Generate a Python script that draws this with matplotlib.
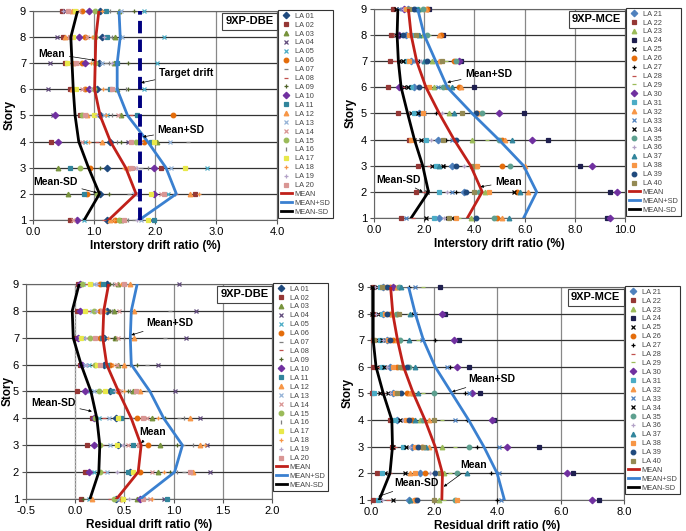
import matplotlib.pyplot as plt

plt.rcParams['font.family'] = ['Liberation Sans', 'DejaVu Sans']

stories = [1, 2, 3, 4, 5, 6, 7, 8, 9]

# interstory drift, DBE (story 1 .. 9, 20 records each)
idr_dbe = [
    [1.22, 0.61, 1.44, 1.93, 0.83, 1.35, 1.66, 1.16, 1.52, 0.72, 1.99, 1.27, 1.77, 0.66, 1.41, 1.55, 1.88, 1.33, 1.71, 1.49],
    [1.10, 2.65, 0.58, 1.74, 2.21, 0.88, 1.57, 2.35, 1.24, 1.99, 0.83, 2.57, 1.66, 2.10, 1.05, 2.32, 1.93, 2.72, 1.71, 2.15],
    [1.22, 2.10, 0.41, 1.63, 2.85, 0.94, 1.77, 2.51, 1.10, 1.99, 0.61, 1.55, 2.27, 1.66, 0.77, 1.88, 2.49, 1.49, 1.71, 1.60],
    [1.27, 0.30, 2.04, 1.55, 0.86, 1.82, 2.54, 1.05, 1.44, 0.41, 1.93, 1.13, 2.24, 0.80, 1.69, 1.38, 1.99, 0.91, 1.77, 1.60],
    [1.10, 0.77, 1.44, 0.33, 1.22, 2.29, 0.94, 1.60, 1.02, 0.36, 1.71, 0.88, 1.16, 1.40, 0.80, 1.30, 1.00, 1.20, 1.05, 0.85],
    [1.05, 0.61, 1.38, 0.25, 1.82, 0.86, 1.22, 0.69, 1.55, 0.91, 1.27, 0.64, 1.35, 0.80, 1.00, 1.52, 0.70, 1.15, 0.95, 1.30],
    [1.08, 0.52, 1.33, 0.28, 2.04, 0.80, 1.19, 0.61, 1.55, 0.86, 1.38, 0.66, 1.13, 0.72, 1.02, 1.25, 0.55, 0.95, 1.30, 0.70],
    [1.13, 0.50, 1.35, 0.39, 2.15, 0.86, 1.27, 0.55, 1.44, 0.75, 1.22, 0.52, 1.46, 0.88, 1.02, 1.30, 0.66, 0.97, 1.16, 0.60],
    [1.10, 0.47, 1.41, 0.52, 1.82, 0.80, 1.22, 0.55, 1.66, 0.91, 1.19, 0.64, 1.44, 0.75, 1.02, 1.27, 0.69, 1.13, 0.50, 0.58],
]
idr_dbe_mean = [1.24, 1.69, 1.52, 1.27, 1.10, 1.01, 1.02, 1.03, 1.08]
idr_dbe_plus = [1.74, 2.35, 2.18, 1.88, 1.55, 1.38, 1.38, 1.43, 1.41]
idr_dbe_minus = [0.84, 1.09, 0.91, 0.75, 0.69, 0.66, 0.64, 0.62, 0.73]
target_drift = 1.75

# interstory drift, MCE
idr_mce = [
    [2.60, 1.08, 3.85, 9.30, 2.07, 4.90, 2.86, 1.54, 3.39, 9.40, 2.40, 5.10, 1.28, 3.12, 4.77, 2.79, 5.36, 3.25, 4.05, 2.99],
    [3.58, 1.67, 4.44, 9.40, 2.13, 5.69, 3.25, 2.00, 4.31, 9.70, 2.60, 6.15, 3.12, 5.56, 4.18, 2.90, 5.83, 4.57, 3.65, 4.00],
    [3.12, 1.74, 4.05, 8.20, 2.33, 5.10, 2.79, 2.20, 3.85, 8.70, 2.46, 6.03, 3.19, 2.73, 5.43, 3.58, 2.60, 4.11, 3.25, 3.91],
    [2.53, 1.41, 3.91, 6.95, 1.87, 5.10, 2.86, 1.54, 4.51, 6.29, 2.07, 5.23, 3.12, 1.61, 4.97, 2.27, 5.50, 1.48, 3.25, 2.73],
    [1.80, 0.95, 2.99, 5.96, 1.48, 4.11, 2.46, 1.34, 3.91, 4.97, 1.61, 4.18, 2.00, 1.74, 4.31, 2.70, 3.19, 1.94, 4.05, 3.50],
    [1.61, 0.55, 2.40, 3.98, 1.21, 3.39, 2.07, 1.15, 3.06, 1.00, 1.48, 3.45, 2.53, 1.34, 2.73, 1.74, 3.12, 2.20, 1.80, 2.90],
    [1.48, 0.62, 2.33, 3.45, 1.01, 3.19, 1.80, 0.82, 2.86, 3.39, 1.28, 2.60, 1.67, 1.15, 3.25, 1.87, 2.00, 1.41, 2.10, 2.70],
    [1.28, 0.69, 1.94, 2.73, 0.88, 2.66, 1.61, 0.82, 2.20, 1.01, 1.48, 2.60, 1.74, 1.08, 2.13, 1.21, 1.80, 1.41, 1.15, 1.67],
    [1.34, 0.75, 1.80, 2.20, 0.88, 2.13, 1.54, 0.95, 2.00, 1.21, 1.67, 2.07, 1.01, 1.48, 1.94, 1.15, 1.74, 1.28, 1.60, 1.41],
]
idr_mce_mean = [3.72, 4.31, 3.85, 3.19, 2.60, 2.07, 1.70, 1.48, 1.37]
idr_mce_plus = [5.96, 6.48, 5.96, 4.97, 3.91, 2.92, 2.46, 2.00, 1.74]
idr_mce_minus = [1.48, 2.17, 1.94, 1.61, 1.34, 1.08, 0.97, 0.92, 0.95]

# residual drift, DBE
rdr_dbe = [
    [0.41, 0.06, 0.63, 0.90, 0.14, 0.47, 0.73, 0.35, 0.08, 0.66, 0.93, 0.17, 0.44, 0.76, 0.39, 0.68, 0.49, 0.78, 0.55, 0.69],
    [0.56, 0.10, 0.84, 1.37, 0.19, 0.66, 1.11, 0.29, 0.96, 0.14, 0.54, 1.20, 0.32, 0.78, 0.25, 1.03, 0.59, 0.90, 0.42, 1.17],
    [0.44, 0.12, 0.86, 1.34, 0.22, 0.74, 1.10, 0.27, 1.03, 0.19, 0.59, 1.27, 0.35, 0.54, 0.25, 1.20, 0.42, 1.32, 0.49, 0.65],
    [0.41, 0.17, 0.78, 1.27, 0.24, 0.63, 1.05, 0.29, 0.91, 0.19, 0.47, 1.17, 0.34, 0.73, 0.20, 1.11, 0.44, 0.84, 0.57, 0.69],
    [0.35, 0.02, 0.59, 1.01, 0.15, 0.44, 0.73, 0.27, 0.54, 0.10, 0.37, 0.66, 0.19, 0.46, 0.24, 0.56, 0.30, 0.50, 0.40, 0.62],
    [0.29, 0.05, 0.44, 0.84, 0.14, 0.35, 0.73, 0.19, 0.63, 0.07, 0.32, 0.50, 0.10, 0.42, 0.20, 0.56, 0.22, 0.38, 0.12, 0.25],
    [0.29, 0.00, 0.40, 1.13, 0.08, 0.25, 0.91, 0.12, 0.39, 0.03, 0.27, 0.60, 0.05, 0.44, 0.15, 0.50, 0.06, 0.33, 0.10, 0.20],
    [0.32, 0.02, 0.39, 1.23, 0.08, 0.25, 0.96, 0.14, 0.35, 0.05, 0.29, 0.60, 0.17, 0.45, 0.19, 0.37, 0.10, 0.30, 0.21, 0.27],
    [0.32, 0.03, 0.44, 1.05, 0.08, 0.25, 0.54, 0.12, 0.35, 0.05, 0.28, 0.56, 0.19, 0.41, 0.07, 0.38, 0.15, 0.47, 0.22, 0.50],
]
rdr_dbe_mean = [0.42, 0.64, 0.67, 0.57, 0.44, 0.32, 0.28, 0.29, 0.34]
rdr_dbe_plus = [0.66, 1.01, 1.09, 0.90, 0.76, 0.57, 0.56, 0.57, 0.63]
rdr_dbe_minus = [0.15, 0.24, 0.25, 0.22, 0.16, 0.06, -0.02, -0.03, 0.04]

# residual drift, MCE
rdr_mce = [
    [1.19, 0.07, 2.14, 7.20, 0.29, 1.40, 3.99, 0.55, 2.30, 7.00, 0.23, 1.34, 4.10, 0.71, 2.67, 0.34, 1.24, 2.72, 1.45, 1.98],
    [1.56, 0.18, 2.30, 6.40, 0.44, 1.71, 3.80, 0.60, 2.51, 6.20, 0.34, 1.24, 4.04, 1.08, 2.72, 1.87, 3.04, 1.40, 2.03, 2.19],
    [1.29, 0.66, 2.24, 5.31, 0.71, 1.61, 3.35, 0.76, 2.67, 4.31, 1.00, 1.82, 4.04, 1.10, 3.09, 1.24, 1.75, 1.40, 1.50, 1.66],
    [0.81, 0.60, 1.56, 3.88, 0.66, 1.29, 3.04, 0.71, 2.24, 3.83, 0.76, 1.82, 2.67, 0.92, 1.66, 1.00, 1.40, 1.10, 1.19, 2.00],
    [0.71, 0.02, 1.34, 3.46, 0.29, 1.13, 2.98, 0.39, 1.66, 3.20, 0.10, 1.24, 3.10, 0.55, 1.98, 0.60, 1.50, 0.76, 0.95, 0.81],
    [0.60, 0.07, 1.03, 3.09, 0.18, 0.81, 2.51, 0.23, 2.03, 2.72, 0.34, 0.97, 2.40, 0.40, 1.19, 0.50, 1.40, 0.71, 1.13, 0.92],
    [0.50, 0.05, 0.87, 2.77, 0.16, 0.71, 2.03, 0.23, 1.50, 2.61, 0.29, 0.81, 1.61, 0.34, 0.92, 0.39, 1.20, 0.55, 0.60, 0.10],
    [0.39, 0.07, 0.76, 2.35, 0.23, 0.60, 1.29, 0.29, 1.19, 2.24, 0.34, 0.66, 1.40, 0.03, 0.81, 0.15, 1.24, 0.45, 0.50, 0.90],
    [0.39, 0.07, 0.76, 2.19, 0.18, 0.60, 1.19, 0.23, 1.66, 0.71, 0.29, 0.81, 1.40, 0.03, 0.87, 0.12, 0.95, 0.45, 0.50, 0.35],
]
rdr_mce_mean = [2.24, 2.26, 2.03, 1.71, 1.34, 1.03, 0.84, 0.69, 0.62]
rdr_mce_plus = [4.22, 3.99, 3.57, 3.09, 2.56, 2.03, 1.66, 1.40, 1.19]
rdr_mce_minus = [0.26, 0.60, 0.68, 0.66, 0.39, 0.16, 0.07, 0.07, 0.07]

labels_dbe = ['LA %02d' % i for i in range(1, 21)]
labels_mce = ['LA %02d' % i for i in range(21, 41)]

# marker styles (Excel-like)
markers_dbe = ['D', 's', '^', 'x', 'x', 'o', '_', '_', '+', 'D', 's', '^', 'x', 'x', 'o', '|', 's', '+', '+', 's']
colors_dbe = ['#1F497D', '#953735', '#77933C', '#604A7B', '#4BACC6', '#E46C0A', '#7F7F7F', '#C0504D', '#4F6228', '#7030A0',
              '#31859C', '#F79646', '#95B3D7', '#D99694', '#9BBB59', '#7F7F7F', '#E8E84A', '#F79646', '#B3A2C7', '#D99694']
markers_mce = ['D', 's', '^', 's', 'x', 'o', '+', '_', '_', 'D', 's', '^', 'x', 'x', 'o', '+', '^', 's', 'o', 's']
colors_mce = ['#4F81BD', '#953735', '#9BBB59', '#1F1F4F', '#000000', '#E46C0A', '#000000', '#C0504D', '#9BBB59', '#7030A0',
              '#4BACC6', '#F79646', '#4F81BD', '#000000', '#5DA08F', '#B3A2C7', '#31859C', '#F79646', '#1F497D', '#948A54']

RED, BLUE = '#C0201A', '#3A80D0'


def draw_panel(ax, data, mean, plus, minus, labels, markers, colors, xlim, xticks, xlabel, tag, notes):
    for i in range(20):
        vals = [row[i] for row in data]
        ax.plot(vals, stories, ls='none', marker=markers[i], color=colors[i], ms=3.3, mew=0.9,
                label=labels[i], clip_on=False, zorder=3)
    ax.plot(mean, stories, color=RED, lw=2, label='MEAN', zorder=4)
    ax.plot(plus, stories, color=BLUE, lw=2, label='MEAN+SD', zorder=4)
    ax.plot(minus, stories, color='black', lw=2, label='MEAN-SD', zorder=4)

    ax.set_xlim(*xlim)
    ax.set_ylim(1, 9)
    ax.set_xticks(xticks)
    ax.set_xticklabels(['%.1f' % t for t in xticks])
    ax.set_yticks(stories)
    ax.tick_params(labelsize=8, length=3, color='#555555', pad=2)
    ax.grid(axis='y', color='#333333', lw=0.9)
    ax.grid(axis='x', color='#888888', lw=0.9)
    ax.set_axisbelow(True)
    for sp in ax.spines.values():
        sp.set_color('#666666')
    ax.set_ylabel('Story', fontsize=8.5, fontweight='bold', labelpad=3)
    ax.set_xlabel(xlabel, fontsize=8.5, fontweight='bold', labelpad=2)

    ax.text(0.985, 0.975, tag, transform=ax.transAxes, ha='right', va='top', fontsize=8, fontweight='bold',
            bbox=dict(boxstyle='square,pad=0.3', fc='white', ec='#444444', lw=0.8), zorder=6)

    for txt, xy, xyt in notes:
        ax.annotate(txt, xy=xy, xytext=xyt, ha='center', va='center', fontsize=7.5, fontweight='bold',
                    arrowprops=dict(arrowstyle='-|>', color='black', lw=0.5, mutation_scale=4,
                                    shrinkA=1, shrinkB=0), zorder=6)

    leg = ax.legend(loc='upper left', bbox_to_anchor=(1.004, 1.005), borderaxespad=0, fontsize=5.3,
                    labelspacing=0.24, handlelength=1.6, handletextpad=0.3, borderpad=0.35,
                    fancybox=False, framealpha=1, edgecolor='#333333')
    leg.get_frame().set_linewidth(0.8)
    for t in leg.get_texts():
        t.set_color('#444444')


fig = plt.figure(figsize=(6.86, 5.31), dpi=100)
ax1 = fig.add_axes([0.0481, 0.5857, 0.3557, 0.3936])
ax2 = fig.add_axes([0.5452, 0.5895, 0.3659, 0.3936])
ax3 = fig.add_axes([0.0379, 0.0603, 0.3586, 0.4049])
ax4 = fig.add_axes([0.5408, 0.0584, 0.3688, 0.4011])

ax1.vlines(target_drift, 1, 9, color='#000080', lw=2.8, linestyles=(0, (3.2, 1.6)), zorder=5)
draw_panel(ax1, idr_dbe, idr_dbe_mean, idr_dbe_plus, idr_dbe_minus, labels_dbe, markers_dbe, colors_dbe,
           (0, 4), [0, 1, 2, 3, 4], 'Interstory drift ratio (%)', '9XP-DBE',
           [('Mean', (1.02, 7.11), (0.31, 7.37)),
            ('Target drift', (1.77, 6.25), (2.51, 6.63)),
            ('Mean+SD', (1.80, 4.18), (2.43, 4.44)),
            ('Mean-SD', (1.05, 2.04), (0.37, 2.46))])

draw_panel(ax2, idr_mce, idr_mce_mean, idr_mce_plus, idr_mce_minus, labels_mce, markers_mce, colors_mce,
           (0, 10), [0, 2, 4, 6, 8, 10], 'Interstory drift ratio (%)', '9XP-MCE',
           [('Mean+SD', (2.92, 6.19), (4.57, 6.52)),
            ('Mean', (4.24, 2.19), (5.36, 2.38)),
            ('Mean-SD', (1.94, 2.0), (0.99, 2.47))])

ax3.axvline(0, color='#BBBBBB', lw=1, ls=':', zorder=1)
draw_panel(ax3, rdr_dbe, rdr_dbe_mean, rdr_dbe_plus, rdr_dbe_minus, labels_dbe, markers_dbe, colors_dbe,
           (-0.5, 2.0), [-0.5, 0, 0.5, 1.0, 1.5, 2.0], 'Residual drift ratio (%)', '9XP-DBE',
           [('Mean+SD', (0.57, 7.10), (0.96, 7.54)),
            ('Mean-SD', (0.17, 4.26), (-0.22, 4.57)),
            ('Mean', (0.67, 3.08), (0.79, 3.49))])
ax3.yaxis.set_label_coords(-0.052, 0.5)

draw_panel(ax4, rdr_mce, rdr_mce_mean, rdr_mce_plus, rdr_mce_minus, labels_mce, markers_mce, colors_mce,
           (0, 8), [0, 2, 4, 6, 8], 'Residual drift ratio (%)', '9XP-MCE',
           [('Mean+SD', (2.56, 5.06), (3.83, 5.53)),
            ('Mean', (2.30, 1.50), (3.23, 2.31)),
            ('Mean-SD', (0.23, 1.13), (1.43, 1.63))])

fig.savefig('out.png', dpi=100)
